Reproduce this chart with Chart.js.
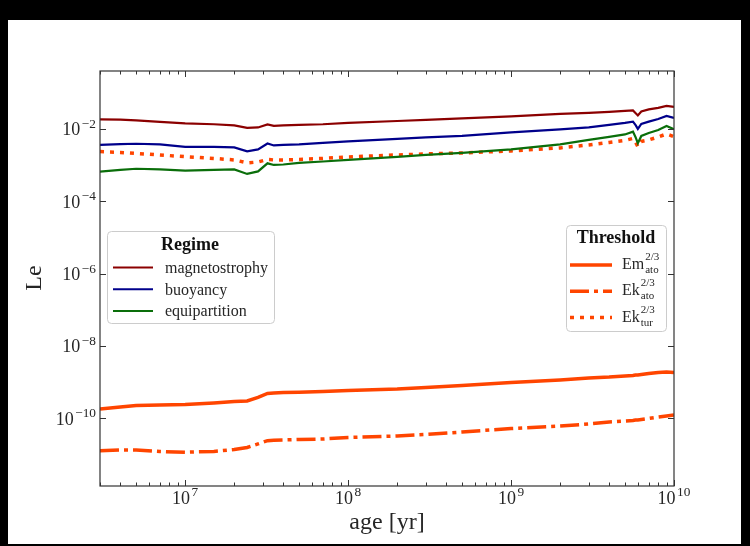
<!DOCTYPE html>
<html>
<head>
<meta charset="utf-8">
<script src="https://cdn.jsdelivr.net/npm/chart.js"></script>
<style>
  html, body { margin: 0; padding: 0; background: #000; }
  #frame { position: absolute; left: 8px; top: 20px; width: 733px; height: 524px; background: #fff; }
</style>
</head>
<body>
<div id="frame"><canvas id="leChart" width="733" height="524"></canvas></div>
<script>
// stellar age in years
const ages = [3e6, 4e6, 5e6, 7e6, 1e7, 1.5e7, 2e7, 2.4e7, 2.8e7, 3.2e7, 3.5e7, 4e7, 5e7, 7e7,
  1e8, 2e8, 3e8, 5e8, 1e9, 2e9, 3e9, 4e9, 5e9, 5.6e9, 5.8e9, 6e9, 6.3e9, 7e9, 8e9, 9e9, 1e10];

// Lehnert number for each scaling regime
const magnetostrophy = [1.85e-2, 1.81e-2, 1.72e-2, 1.56e-2, 1.42e-2, 1.35e-2, 1.25e-2, 1.07e-2, 1.10e-2, 1.33e-2,
  1.21e-2, 1.25e-2, 1.29e-2, 1.35e-2, 1.47e-2, 1.66e-2, 1.77e-2, 1.95e-2, 2.22e-2, 2.60e-2,
  2.77e-2, 2.95e-2, 3.15e-2, 3.25e-2, 2.77e-2, 2.36e-2, 3.05e-2, 3.46e-2, 3.81e-2, 4.33e-2, 4.06e-2];
const buoyancy = [3.61e-3, 3.80e-3, 3.90e-3, 3.73e-3, 3.18e-3, 3.18e-3, 3.08e-3, 2.39e-3, 2.71e-3, 3.97e-3,
  3.50e-3, 3.61e-3, 3.73e-3, 4.10e-3, 4.51e-3, 5.29e-3, 5.82e-3, 6.40e-3, 8.00e-3, 9.69e-3,
  1.10e-2, 1.29e-2, 1.47e-2, 1.59e-2, 1.29e-2, 1.00e-2, 1.37e-2, 1.59e-2, 1.89e-2, 2.29e-2, 2.01e-2];
const equipartition = [6.59e-4, 7.34e-4, 7.93e-4, 7.58e-4, 7.03e-4, 7.34e-4, 7.58e-4, 5.70e-4, 6.68e-4, 1.12e-3,
  1.01e-3, 1.04e-3, 1.15e-3, 1.26e-3, 1.39e-3, 1.68e-3, 1.91e-3, 2.17e-3, 2.71e-3, 3.73e-3,
  4.96e-3, 6.01e-3, 7.05e-3, 8.42e-3, 6.01e-3, 4.02e-3, 6.40e-3, 7.75e-3, 9.38e-3, 1.21e-2, 9.81e-3];

// thresholds
const emAto = [1.81e-10, 2.05e-10, 2.26e-10, 2.33e-10, 2.40e-10, 2.65e-10, 2.91e-10, 3.01e-10, 3.76e-10, 4.85e-10,
  5.00e-10, 5.16e-10, 5.23e-10, 5.51e-10, 5.87e-10, 6.45e-10, 7.10e-10, 8.06e-10, 9.75e-10, 1.14e-9,
  1.30e-9, 1.38e-9, 1.48e-9, 1.52e-9, 1.57e-9, 1.57e-9, 1.62e-9, 1.73e-9, 1.85e-9, 1.91e-9, 1.85e-9];
const ekAto = [1.27e-11, 1.33e-11, 1.33e-11, 1.21e-11, 1.15e-11, 1.21e-11, 1.37e-11, 1.56e-11, 1.95e-11, 2.40e-11,
  2.48e-11, 2.51e-11, 2.59e-11, 2.67e-11, 2.94e-11, 3.24e-11, 3.56e-11, 4.17e-11, 5.21e-11, 6.11e-11,
  6.95e-11, 7.89e-11, 8.41e-11, 8.68e-11, 8.95e-11, 8.95e-11, 9.24e-11, 9.86e-11, 1.08e-10, 1.16e-10, 1.23e-10];
const ekTur = [2.36e-3, 2.24e-3, 2.10e-3, 1.91e-3, 1.71e-3, 1.53e-3, 1.39e-3, 1.15e-3, 1.22e-3, 1.43e-3,
  1.39e-3, 1.39e-3, 1.43e-3, 1.53e-3, 1.68e-3, 1.91e-3, 2.04e-3, 2.17e-3, 2.47e-3, 2.99e-3,
  3.61e-3, 4.24e-3, 4.81e-3, 5.46e-3, 4.37e-3, 3.24e-3, 4.51e-3, 4.96e-3, 6.01e-3, 7.27e-3, 6.12e-3];

// tick labels are 10^exp
const xTickExps = [7, 8, 9, 10];
const yTickExps = [-2, -4, -6, -8, -10];

const regimeLabels = ['magnetostrophy', 'buoyancy', 'equipartition'];
const thresholdLabels = [['Em', 'ato'], ['Ek', 'ato'], ['Ek', 'tur']];

const SERIF = '"Liberation Serif", "DejaVu Serif", serif';
const ORANGE = '#ff4500';
const TEXT = '#262626';
const regimeColors = ['#8b0000', '#00008b', '#0a6e0a'];
const thresholdDash = [[], [19, 5, 4, 5], [4, 6]];

const toPoints = vals => vals.map((v, i) => ({ x: ages[i], y: v }));

function supText(ctx, base, exp, x, y, align, size) {
  // draws base^exp with its baseline at y
  const es = size * 0.74;
  ctx.font = size + 'px ' + SERIF;
  const wb = ctx.measureText(base).width;
  ctx.font = es + 'px ' + SERIF;
  const we = ctx.measureText(exp).width;
  const total = wb + we + 1.5;
  let x0 = x;
  if (align === 'center') x0 = x - total / 2;
  if (align === 'right') x0 = x - total;
  ctx.textAlign = 'left';
  ctx.textBaseline = 'alphabetic';
  ctx.font = size + 'px ' + SERIF;
  ctx.fillText(base, x0, y);
  ctx.font = es + 'px ' + SERIF;
  ctx.fillText(exp, x0 + wb + 1.5, y - size * 0.42);
}

function roundBox(ctx, x, y, w, h, r) {
  ctx.beginPath();
  ctx.moveTo(x + r, y);
  ctx.arcTo(x + w, y, x + w, y + h, r);
  ctx.arcTo(x + w, y + h, x, y + h, r);
  ctx.arcTo(x, y + h, x, y, r);
  ctx.arcTo(x, y, x + w, y, r);
  ctx.closePath();
  ctx.fillStyle = 'rgba(255,255,255,0.85)';
  ctx.fill();
  ctx.strokeStyle = '#cccccc';
  ctx.lineWidth = 1;
  ctx.stroke();
}

// frame, inward ticks, tick labels, axis titles and both legends
const axesDecor = {
  id: 'axesDecor',
  afterDraw(chart) {
    const ctx = chart.ctx;
    const a = chart.chartArea;
    const xs = chart.scales.x, ys = chart.scales.y;
    ctx.save();

    ctx.strokeStyle = '#333';
    ctx.lineWidth = 1.2;
    ctx.strokeRect(a.left, a.top, a.right - a.left, a.bottom - a.top);

    ctx.lineWidth = 1;
    ctx.beginPath();
    for (let d = 6; d <= 10; d++) {
      for (let m = 1; m <= 9; m++) {
        const v = m * Math.pow(10, d);
        if (v < xs.min || v > xs.max * 1.0001) continue;
        const px = Math.round(xs.getPixelForValue(v)) + 0.5;
        const len = m === 1 ? 6 : 3.5;
        ctx.moveTo(px, a.bottom); ctx.lineTo(px, a.bottom - len);
        ctx.moveTo(px, a.top); ctx.lineTo(px, a.top + len);
      }
    }
    yTickExps.forEach(e => {
      const py = Math.round(ys.getPixelForValue(Math.pow(10, e))) + 0.5;
      ctx.moveTo(a.left, py); ctx.lineTo(a.left + 6, py);
      ctx.moveTo(a.right, py); ctx.lineTo(a.right - 6, py);
    });
    ctx.stroke();

    ctx.fillStyle = TEXT;
    xTickExps.forEach(e => {
      const px = xs.getPixelForValue(Math.pow(10, e));
      supText(ctx, '10', String(e), px, a.bottom + 18, 'center', 18);
    });
    yTickExps.forEach(e => {
      const py = ys.getPixelForValue(Math.pow(10, e));
      supText(ctx, '10', '\u2212' + Math.abs(e), a.left - 4, py + 6.5, 'right', 18);
    });

    ctx.font = '24px ' + SERIF;
    ctx.textAlign = 'center';
    ctx.textBaseline = 'middle';
    ctx.fillText('age [yr]', (a.left + a.right) / 2, 503);
    ctx.save();
    ctx.translate(27, 258);
    ctx.rotate(-Math.PI / 2);
    ctx.fillText('Le', 0, 0);
    ctx.restore();

    // Regime legend
    roundBox(ctx, 99.5, 211.5, 167, 92, 4);
    ctx.fillStyle = '#111';
    ctx.font = 'bold 18px ' + SERIF;
    ctx.textAlign = 'center';
    ctx.textBaseline = 'middle';
    ctx.fillText('Regime', 182, 225);
    regimeLabels.forEach((lab, i) => {
      const y = 247.5 + i * 21.8;
      ctx.strokeStyle = regimeColors[i];
      ctx.lineWidth = 2;
      ctx.setLineDash([]);
      ctx.beginPath(); ctx.moveTo(105, y); ctx.lineTo(145, y); ctx.stroke();
      ctx.fillStyle = TEXT;
      ctx.font = '16px ' + SERIF;
      ctx.textAlign = 'left';
      ctx.fillText(lab, 157, y + 1);
    });

    // Threshold legend
    roundBox(ctx, 558.5, 205.5, 100, 106, 4);
    ctx.fillStyle = '#111';
    ctx.font = 'bold 18px ' + SERIF;
    ctx.textAlign = 'center';
    ctx.fillText('Threshold', 608, 218);
    thresholdLabels.forEach((lab, i) => {
      const y = 245 + i * 26.3;
      ctx.strokeStyle = ORANGE;
      ctx.lineWidth = 3.5;
      ctx.lineCap = 'butt';
      ctx.setLineDash(thresholdDash[i]);
      ctx.beginPath(); ctx.moveTo(562, y); ctx.lineTo(604, y); ctx.stroke();
      ctx.setLineDash([]);
      ctx.fillStyle = TEXT;
      ctx.textAlign = 'left';
      ctx.textBaseline = 'alphabetic';
      ctx.font = '16px ' + SERIF;
      ctx.fillText(lab[0], 614, y + 4);
      const w = ctx.measureText(lab[0]).width;
      ctx.font = '11px ' + SERIF;
      ctx.fillText('2/3', 615 + w, y - 5);
      ctx.fillText(lab[1], 615 + w, y + 8);
    });

    ctx.restore();
  }
};

const regimeSets = [magnetostrophy, buoyancy, equipartition].map((vals, i) => ({
  label: regimeLabels[i],
  data: toPoints(vals),
  borderColor: regimeColors[i],
  borderWidth: 2.2
}));
const thresholdSets = [emAto, ekAto, ekTur].map((vals, i) => ({
  label: thresholdLabels[i].join('_'),
  data: toPoints(vals),
  borderColor: ORANGE,
  borderWidth: 3.5,
  borderDash: thresholdDash[i],
  borderCapStyle: 'butt'
}));

new Chart(document.getElementById('leChart'), {
  type: 'line',
  data: { datasets: regimeSets.concat(thresholdSets) },
  options: {
    responsive: false,
    animation: false,
    layout: { padding: { left: 0, top: 51, right: 67, bottom: 0 } },
    elements: { point: { radius: 0 }, line: { tension: 0, fill: false } },
    plugins: { legend: { display: false }, tooltip: { enabled: false } },
    scales: {
      x: {
        type: 'logarithmic', min: 3e6, max: 1e10,
        ticks: { display: false }, grid: { display: false }, border: { display: false },
        afterFit(s) { s.height = 58; }
      },
      y: {
        type: 'logarithmic', min: 1.34e-12, max: 0.4,
        ticks: { display: false }, grid: { display: false }, border: { display: false },
        afterFit(s) { s.width = 92; }
      }
    }
  },
  plugins: [axesDecor]
});
</script>
</body>
</html>
